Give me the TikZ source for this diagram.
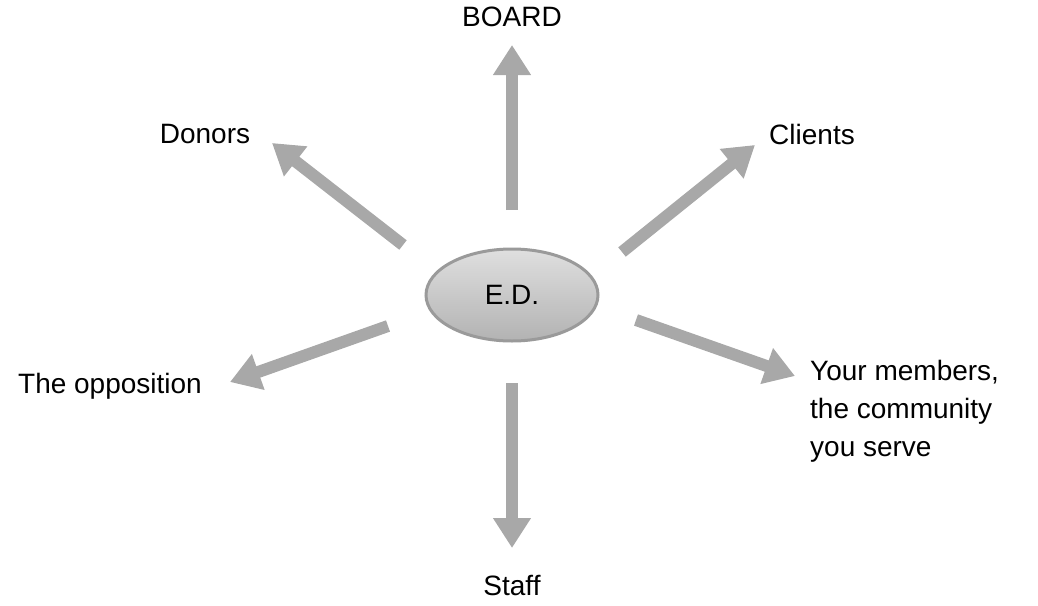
\documentclass[tikz,border=0pt]{standalone}
\usepackage{fontspec}
\setmainfont{Liberation Sans}
\usetikzlibrary{arrows.meta,shapes.geometric}
\definecolor{arrowgray}{HTML}{A8A8A8}
\definecolor{edgegray}{HTML}{9A9A9A}
\tikzset{
  lbl/.style={font=\fontsize{28}{38}\selectfont, inner sep=0pt},
  arr/.style={draw=arrowgray, line width=12pt,
    -{Triangle[width=36pt,length=30pt]}},
  hub/.style={ellipse, draw=edgegray, line width=3pt,
    top color=gray!25, bottom color=gray!60,
    minimum width=172pt, minimum height=92pt,
    font=\fontsize{28}{34}\selectfont}
}
\begin{document}
\begin{tikzpicture}[x=1pt,y=-1pt]
    \useasboundingbox (0,0) rectangle (1038,605);
    \node[hub] (ed) at (512,295) {E.D.};
    % labels
    \node[lbl] (board) at (512,17) {BOARD};
    \node[lbl] (donors) at (205,134) {Donors};
    \node[lbl] (clients) at (812,134) {Clients};
    \node[lbl] (opp) at (110,386) {The opposition};
    \node[lbl, anchor=north west, align=left] (members) at (810,360)
        {Your members,\\the community\\you serve};
    \node[lbl] (staff) at (512,585) {Staff};
    % arrow ends
    \coordinate (boardT) at (512,210);
    \coordinate (boardH) at (512,45);
    \coordinate (donorsT) at (403,245);
    \coordinate (donorsH) at (272,143);
    \coordinate (clientsT) at (622,252);
    \coordinate (clientsH) at (755,145);
    \coordinate (oppT) at (388,326);
    \coordinate (oppH) at (230,382);
    \coordinate (membersT) at (636,320);
    \coordinate (membersH) at (795,376);
    \coordinate (staffT) at (512,383);
    \coordinate (staffH) at (512,548);
    \foreach \n in {board,donors,clients,opp,members,staff}
        \draw[arr] (\n T) -- (\n H);
\end{tikzpicture}
\end{document}
